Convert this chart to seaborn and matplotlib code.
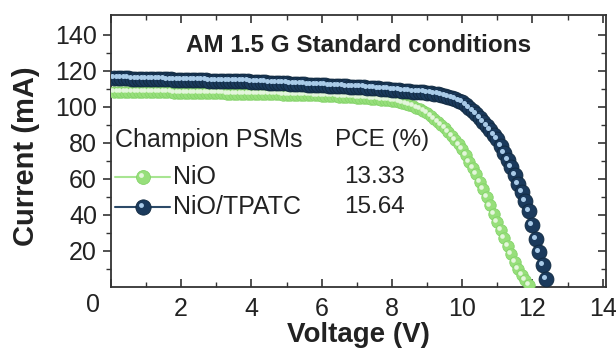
import numpy as np
import pandas as pd
import seaborn as sns
import matplotlib.pyplot as plt
import matplotlib.transforms as mtransforms

sns.set_style('ticks')
plt.rcParams['font.family'] = ['Liberation Sans', 'DejaVu Sans']

# J-V data (V step 0.1 V)
voltage = [0.1, 0.2, 0.3, 0.4, 0.5, 0.6, 0.7, 0.8, 0.9, 1.0,
           1.1, 1.2, 1.3, 1.4, 1.5, 1.6, 1.7, 1.8, 1.9, 2.0,
           2.1, 2.2, 2.3, 2.4, 2.5, 2.6, 2.7, 2.8, 2.9, 3.0,
           3.1, 3.2, 3.3, 3.4, 3.5, 3.6, 3.7, 3.8, 3.9, 4.0,
           4.1, 4.2, 4.3, 4.4, 4.5, 4.6, 4.7, 4.8, 4.9, 5.0,
           5.1, 5.2, 5.3, 5.4, 5.5, 5.6, 5.7, 5.8, 5.9, 6.0,
           6.1, 6.2, 6.3, 6.4, 6.5, 6.6, 6.7, 6.8, 6.9, 7.0,
           7.1, 7.2, 7.3, 7.4, 7.5, 7.6, 7.7, 7.8, 7.9, 8.0,
           8.1, 8.2, 8.3, 8.4, 8.5, 8.6, 8.7, 8.8, 8.9, 9.0,
           9.1, 9.2, 9.3, 9.4, 9.5, 9.6, 9.7, 9.8, 9.9, 10.0,
           10.1, 10.2, 10.3, 10.4, 10.5, 10.6, 10.7, 10.8, 10.9, 11.0,
           11.1, 11.2, 11.3, 11.4, 11.5, 11.6, 11.7, 11.8, 11.9, 12.0,
           12.1, 12.2, 12.3, 12.4]

current_nio = [108.5, 108.5, 108.4, 108.4, 108.4, 108.3, 108.3, 108.3, 108.2, 108.2,
               108.2, 108.1, 108.1, 108.1, 108.0, 108.0, 108.0, 107.9, 107.9, 107.9,
               107.8, 107.8, 107.8, 107.7, 107.7, 107.7, 107.6, 107.6, 107.6, 107.5,
               107.5, 107.5, 107.4, 107.4, 107.4, 107.3, 107.3, 107.3, 107.2, 107.2,
               107.2, 107.1, 107.1, 107.0, 107.0, 107.0, 106.9, 106.9, 106.8, 106.8,
               106.7, 106.7, 106.6, 106.6, 106.5, 106.5, 106.4, 106.3, 106.3, 106.2,
               106.1, 106.0, 105.9, 105.8, 105.7, 105.6, 105.5, 105.4, 105.3, 105.1,
               105.0, 104.8, 104.7, 104.5, 104.3, 104.2, 104.0, 103.8, 103.6, 103.4,
               103.1, 102.7, 102.2, 101.7, 101.1, 100.4, 99.6, 98.7, 97.6, 96.4,
               95.0, 93.4, 91.7, 89.9, 88.0, 86.0, 83.9, 81.6, 79.1, 76.4,
               73.0, 69.6, 66.1, 62.5, 58.5, 54.3, 49.8, 45.2, 40.6, 36.0,
               31.5, 27.0, 22.5, 18.1, 14.0, 10.1, 6.6, 3.6, 1.2]

current_tpatc = [116.0, 115.9, 115.9, 115.8, 115.8, 115.7, 115.7, 115.6, 115.6, 115.5,
                 115.5, 115.4, 115.4, 115.3, 115.3, 115.2, 115.2, 115.1, 115.1, 115.0,
                 115.0, 114.9, 114.9, 114.8, 114.8, 114.7, 114.7, 114.6, 114.6, 114.5,
                 114.5, 114.4, 114.4, 114.3, 114.3, 114.2, 114.2, 114.1, 114.1, 114.0,
                 113.9, 113.8, 113.7, 113.6, 113.5, 113.4, 113.3, 113.2, 113.1, 113.0,
                 112.9, 112.8, 112.7, 112.6, 112.5, 112.4, 112.3, 112.2, 112.1, 112.0,
                 111.9, 111.8, 111.7, 111.6, 111.5, 111.4, 111.3, 111.2, 111.1, 111.0,
                 110.9, 110.8, 110.6, 110.5, 110.3, 110.2, 110.1, 110.0, 109.8, 109.6,
                 109.4, 109.2, 109.0, 108.9, 108.7, 108.5, 108.4, 108.2, 108.0, 107.8,
                 107.5, 107.2, 106.9, 106.6, 106.1, 105.6, 105.0, 104.3, 103.5, 102.6,
                 101.2, 99.6, 97.8, 95.8, 93.8, 91.6, 89.4, 87.0, 84.6, 82.0,
                 78.4, 74.6, 70.6, 66.4, 62.0, 57.4, 52.6, 47.6, 42.4, 34.5,
                 26.5, 19.5, 12.0, 4.5]

labels = ['NiO', 'NiO/TPATC']
pce = ['13.33', '15.64']

green, green_edge, green_hl = '#97df7b', '#84d36a', '#e4f6dc'
navy, navy_edge, navy_hl = '#1b3a5c', '#10293f', '#a9cbe8'
ink = '#222222'

df_nio = pd.DataFrame({'Voltage': voltage[:len(current_nio)], 'Current': current_nio})
df_tpatc = pd.DataFrame({'Voltage': voltage[:len(current_tpatc)], 'Current': current_tpatc})

fig = plt.figure(figsize=(6.16, 3.49), dpi=100)
ax = fig.add_axes([0.180, 0.178, 0.804, 0.779])
hl = mtransforms.offset_copy(ax.transData, fig=fig, x=-1.4, y=1.4, units='points')

sns.scatterplot(data=df_nio, x='Voltage', y='Current', ax=ax, s=68, color=green,
                edgecolor=green_edge, linewidth=0.6, zorder=3, legend=False)
sns.scatterplot(data=df_nio, x='Voltage', y='Current', ax=ax, s=11, color=green_hl,
                linewidth=0, transform=hl, zorder=3.1, legend=False)
sns.scatterplot(data=df_tpatc, x='Voltage', y='Current', ax=ax, s=115, color=navy,
                edgecolor=navy_edge, linewidth=0.6, zorder=3.2, legend=False)
sns.scatterplot(data=df_tpatc, x='Voltage', y='Current', ax=ax, s=13, color=navy_hl,
                linewidth=0, transform=hl, zorder=3.3, legend=False)

ax.set_xlim(0, 14.1)
ax.set_ylim(0, 151)
ax.set_xticks(range(0, 15, 2))
ax.set_xticklabels([''] + [str(v) for v in range(2, 15, 2)])
ax.set_xticks(range(1, 14, 2), minor=True)
ax.set_yticks(range(20, 141, 20))
ax.set_yticks(range(10, 140, 20), minor=True)

for s in ax.spines.values():
    s.set_visible(True)
    s.set_color('#333333')
    s.set_linewidth(1.3)

ax.tick_params(axis='x', which='both', direction='in', top=True, bottom=True,
               labelsize=18, labelcolor=ink, pad=7, color='#333333')
ax.tick_params(axis='y', which='both', direction='out', left=True, right=False,
               labelsize=18, labelcolor=ink, pad=4, color='#333333')
ax.tick_params(which='major', length=6, width=1.2)
ax.tick_params(which='minor', length=3.5, width=1.0)

ax2 = ax.twinx()
ax2.set_ylim(ax.get_ylim())
ax2.set_yticks(range(20, 141, 20))
ax2.set_yticks(range(10, 140, 20), minor=True)
ax2.tick_params(axis='y', which='both', direction='in', labelright=False, color='#333333')
ax2.tick_params(which='major', length=6, width=1.2)
ax2.tick_params(which='minor', length=3.5, width=1.0)
for s in ax2.spines.values():
    s.set_visible(False)

ax.text(-0.036, -0.066, '0', transform=ax.transAxes, ha='center', va='center',
        fontsize=18, color=ink)

ax.set_xlabel('Voltage (V)', fontsize=20, fontweight='bold', color=ink)
ax.set_ylabel('Current (mA)', fontsize=21, fontweight='bold', color=ink)
ax.xaxis.set_label_coords(0.5, -0.13)
ax.yaxis.set_label_coords(-0.143, 0.48)

ax.text(0.5, 0.888, 'AM 1.5 G Standard conditions', transform=ax.transAxes,
        ha='center', va='center', fontsize=17.5, fontweight='bold', color=ink)

# legend block
ax.text(0.008, 0.54, 'Champion PSMs', transform=ax.transAxes, ha='left', va='center',
        fontsize=18, color=ink)
ax.text(0.453, 0.54, 'PCE (%)', transform=ax.transAxes, ha='left', va='center',
        fontsize=17.5, color=ink)
rows = [(0.404, green, green_edge, '#a8e592', 10, green_hl),
        (0.294, navy, navy_edge, '#2c4a68', 11, navy_hl)]
for (yy, fc, ec, lc, ms, hc), lab, val in zip(rows, labels, pce):
    ax.plot([0.008, 0.119], [yy, yy], transform=ax.transAxes, color=lc, lw=1.5,
            clip_on=False, zorder=4)
    ax.plot([0.065], [yy], transform=ax.transAxes, marker='o', ms=ms, mfc=fc, mec=ec,
            mew=0.6, zorder=5, clip_on=False)
    ax.plot([0.065], [yy], transform=mtransforms.offset_copy(ax.transAxes, fig=fig, x=-1.6,
            y=1.6, units='points'), marker='o', ms=3.5, mfc=hc, mew=0, zorder=6,
            clip_on=False)
    ax.text(0.125, yy, lab, transform=ax.transAxes, ha='left', va='center',
            fontsize=18, color=ink)
    ax.text(0.471, yy, val, transform=ax.transAxes, ha='left', va='center',
            fontsize=17.5, color=ink)

fig.savefig('out.png', dpi=100)
